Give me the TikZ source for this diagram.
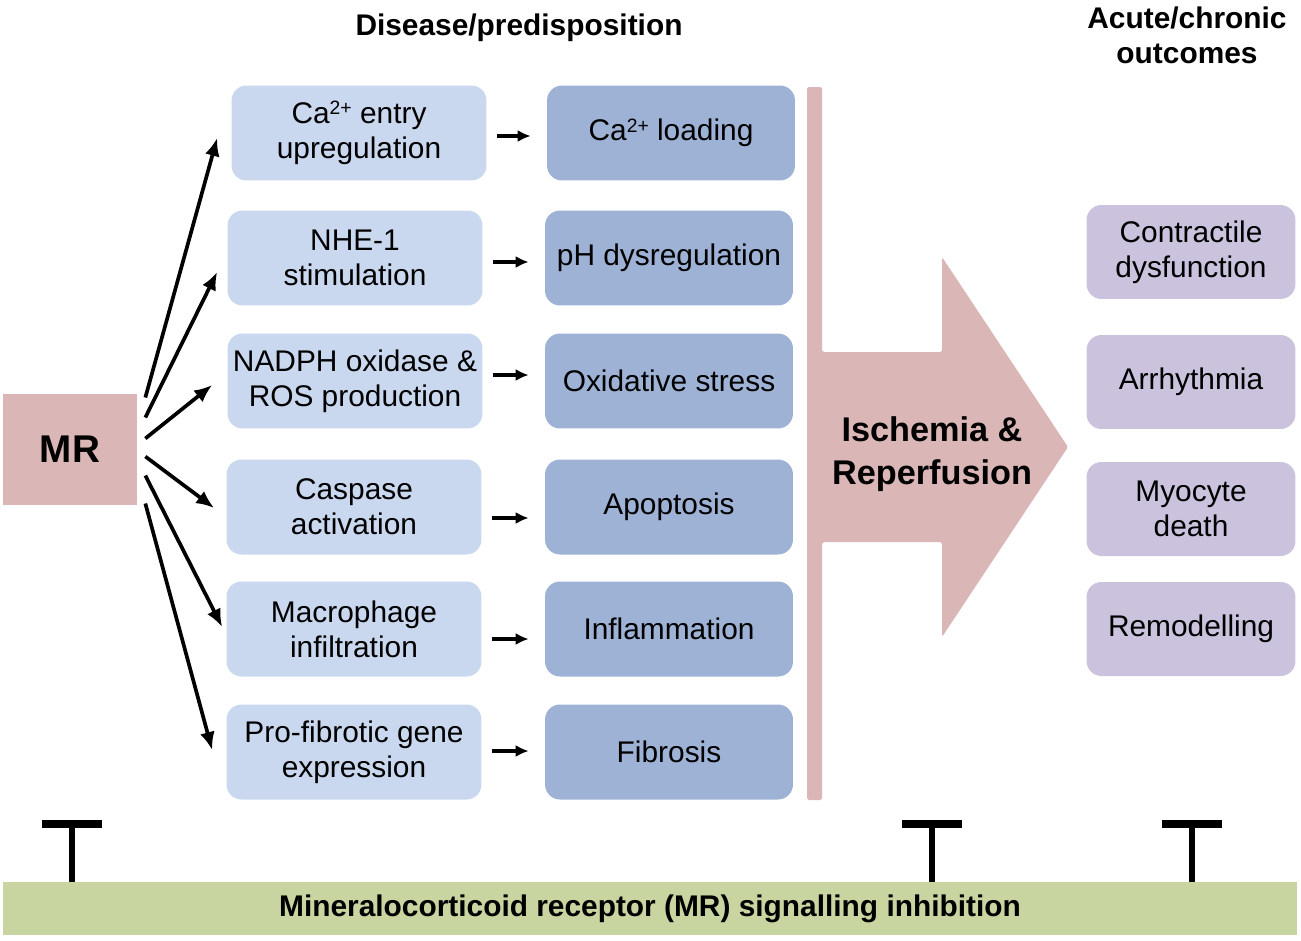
\documentclass[tikz,border=0pt]{standalone}
\usepackage{fontspec}
\setmainfont{Liberation Sans}
\usepackage{tikz}
\usepackage{xcolor}
\usetikzlibrary{arrows.meta,shapes,positioning,calc}

\definecolor{causeblue}{RGB}{201,216,239}
\definecolor{effectblue}{RGB}{158,178,214}
\definecolor{mrpink}{RGB}{218,182,182}
\definecolor{outpurple}{RGB}{203,195,221}
\definecolor{inhibgreen}{RGB}{201,213,160}

\newcommand{\supsm}[1]{\raisebox{0.55ex}{\fontsize{11}{12}\selectfont #1}}

\begin{document}
\begin{tikzpicture}[x=0.02cm,y=-0.02cm,
    txt/.style={font=\fontsize{17}{20}\selectfont, align=center},
    causebox/.style={txt, fill=causeblue, rounded corners=0.3cm, minimum width=5.1cm, minimum height=1.9cm, inner sep=0pt},
    effectbox/.style={txt, fill=effectblue, rounded corners=0.3cm, minimum width=4.96cm, minimum height=1.9cm, inner sep=0pt},
    outbox/.style={txt, fill=outpurple, rounded corners=0.3cm, minimum width=4.18cm, minimum height=1.88cm, inner sep=0pt},
    fanarrow/.style={-{Latex[length=0.36cm,width=0.3cm]}, line width=2.1pt},
    smallarrow/.style={-{Latex[length=0.26cm,width=0.24cm]}, line width=1.8pt},
    inhib/.style={line width=3pt}]
    \useasboundingbox (0,0) rectangle (1301,940);

    % headers
    \node[txt, font=\bfseries\fontsize{17}{20}\selectfont] (hdis) at (519,28) {Disease/predisposition};
    \node[txt, font=\bfseries\fontsize{17}{20}\selectfont] (hout) at (1187,35) {Acute/chronic\\outcomes};

    % MR receptor
    \node[fill=mrpink, minimum width=2.68cm, minimum height=2.22cm, font=\bfseries\fontsize{22}{24}\selectfont] (MR) at (70,449.5) {MR};

    % causes and effects
    \node[causebox] (d1) at (359,133) {Ca\supsm{2+} entry\\upregulation};
    \node[causebox] (d2) at (355,258) {NHE-1\\stimulation};
    \node[causebox] (d3) at (355,381) {NADPH oxidase \&\\ROS production};
    \node[causebox] (d4) at (354,507) {Caspase\\activation};
    \node[causebox] (d5) at (354,629) {Macrophage\\infiltration};
    \node[causebox] (d6) at (354,752) {Pro-fibrotic gene\\expression};

    \node[effectbox] (e1) at (671,133) {Ca\supsm{2+} loading};
    \node[effectbox] (e2) at (669,258) {pH dysregulation};
    \node[effectbox] (e3) at (669,381) {Oxidative stress};
    \node[effectbox] (e4) at (669,507) {Apoptosis};
    \node[effectbox] (e5) at (669,629) {Inflammation};
    \node[effectbox] (e6) at (669,752) {Fibrosis};

    % fan of arrows from MR
    \foreach \i/\sy/\ex/\ey in {1/-52/-14/5, 2/-32/-10/14, 3/-11/-15/4, 4/7/-12/1, 5/26/-4/-2, 6/54/-14/-2} {
        \draw[fanarrow] ($(MR.east)+(8,\sy)$) -- ($(d\i.west)+(\ex,\ey)$);
    }
    \foreach \i/\dy in {1/3, 2/4, 3/-6, 4/11, 5/10, 6/-1} {
        \draw[smallarrow] ($(d\i.east)+(10,\dy)$) -- ($(e\i.west)+(-16,\dy)$);
    }

    % ischemia & reperfusion arrow
    \fill[mrpink, rounded corners=1pt] (807,87) -- (822,87) -- (822,352) -- (942,352) -- (942,257)
        -- (1068,447) -- (942,637) -- (942,542) -- (822,542) -- (822,800) -- (807,800) -- cycle;
    \node[txt, font=\bfseries\fontsize{19.5}{24.5}\selectfont] (ir) at (932,454) {Ischemia \&\\Reperfusion};

    % outcomes
    \node[outbox] (o1) at (1191,252) {Contractile\\dysfunction};
    \node[outbox] (o2) at (1191,382) {Arrhythmia};
    \node[outbox] (o3) at (1191,509) {Myocyte\\death};
    \node[outbox] (o4) at (1191,629) {Remodelling};

    % inhibition bar
    \node[fill=inhibgreen, minimum width=25.88cm, minimum height=1.06cm, inner sep=0pt,
        font=\bfseries\fontsize{17}{20}\selectfont] (inh) at (650,908.5) {Mineralocorticoid receptor (MR) signalling inhibition};
    \foreach \x [count=\k] in {72,932,1192} {
        \coordinate (t\k) at (\x,824);
        \draw[inhib] (inh.north -| t\k) -- (t\k);
        \draw[line width=5pt] ($(t\k)+(-30,0)$) -- ($(t\k)+(30,0)$);
    }
\end{tikzpicture}
\end{document}
